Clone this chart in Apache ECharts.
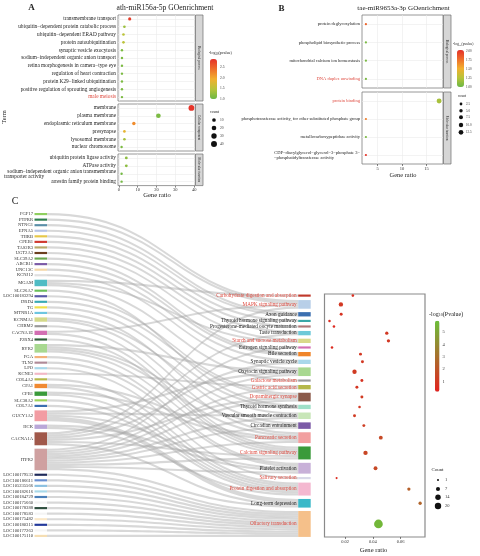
<!DOCTYPE html>
<html>
<head>
<meta charset="utf-8">
<title>GO / KEGG enrichment</title>
<script src="https://cdn.jsdelivr.net/npm/echarts@6/dist/echarts.min.js"></script>
<style>
  html, body { margin: 0; padding: 0; background: #fff; }
  #main { width: 480px; height: 556px; }
</style>
</head>
<body>
<div id="main"></div>
<script>
// ---------- panel A : ath-miR156a-5p GO enrichment ----------
var aBpTerms = ['transmembrane transport', 'ubiquitin−dependent protein catabolic process',
  'ubiquitin−dependent ERAD pathway', 'protein autoubiquitination', 'synaptic vesicle exocytosis',
  'sodium−independent organic anion transport', 'retina morphogenesis in camera−type eye',
  'regulation of heart contraction', 'protein K29−linked ubiquitination',
  'positive regulation of sprouting angiogenesis', 'male meiosis'];
var aBpRatio = [5.8, 3.0, 2.5, 2.5, 1.7, 1.7, 1.7, 1.7, 1.7, 1.7, 1.7];
var aBpCount = [6, 3, 3, 3, 2, 2, 2, 2, 2, 2, 2];
var aBpLogP  = [2.8, 1.3, 1.5, 1.5, 1.1, 1.1, 1.1, 1.1, 1.1, 1.1, 1.1];

var aCcTerms = ['membrane', 'plasma membrane', 'endoplasmic reticulum membrane', 'presynapse',
  'lysosomal membrane', 'nuclear chromosome'];
var aCcRatio = [38.5, 21, 8, 3, 3, 1.5];
var aCcCount = [38, 21, 8, 3, 3, 2];
var aCcLogP  = [2.85, 1.1, 2.2, 1.85, 1.35, 1.1];

var aMfTerms = ['ubiquitin protein ligase activity', 'ATPase activity',
  'sodium−independent organic anion transmembrane\ntransporter activity', 'arrestin family protein binding'];
var aMfRatio = [4, 4, 1.5, 1.5];
var aMfCount = [4, 4, 2, 2];
var aMfLogP  = [1.2, 1.2, 1.05, 1.05];

var aLegendCounts = [10, 20, 30, 40];
var aColorTicks = [2.5, 2.0, 1.5, 1.0];

// ---------- panel B : tae-miR9653a-3p GO enrichment ----------
var bBpTerms = ['protein deglycosylation', 'phospholipid biosynthetic process',
  'mitochondrial calcium ion homeostasis', 'DNA duplex unwinding'];
var bBpRatio = [2.6, 2.6, 2.6, 2.6];
var bBpCount = [1, 1, 1, 1];
var bBpLogP  = [1.8, 1.05, 1.05, 1.05];

var bMfTerms = ['protein binding', 'phosphotransferase activity, for other substituted phosphate group',
  'metallocarboxypeptidase activity', 'CDP−diacylglycerol−glycerol−3−phosphate 3−\n−phosphatidyltransferase activity'];
var bMfRatio = [17.6, 2.6, 2.6, 2.6];
var bMfCount = [14, 1, 1, 1];
var bMfLogP  = [1.2, 1.7, 1.05, 2.0];

var bLegendCounts = [2.5, 5.0, 7.5, 10.0, 12.5];
var bColorTicks = [2.00, 1.75, 1.50, 1.25, 1.00];

var redTerms = ['male meiosis', 'DNA duplex unwinding', 'protein binding'];

// ---------- panel C : genes -> KEGG pathways ----------
var genes = ['FGF17', 'PTPRR', 'NTNG1', 'EFNA5', 'THRB', 'CPEB1', 'TAS2R3', 'UGT2A3', 'SLC39A2', 'ABCB11',
  'UNC13C', 'KCNJ12', 'MGAM', 'SLC26A7', 'LOC100183294', 'DRD4', 'TG', 'MTNR1A', 'KCNMA1', 'CHRM2',
  'CACNA1E', 'P2RX4', 'RYR2', 'FGA', 'TLN2', 'LPO', 'KCNE3', 'COL4A2', 'CPA1', 'CPB1', 'SLC38A2', 'COL7A1',
  'GUCY1A2', 'HCK', 'CACNA1A', 'ITPR2', 'LOC100179533', 'LOC100186611', 'LOC105235566', 'LOC100182616',
  'LOC100184729', 'LOC100175660', 'LOC100178388', 'LOC100178583', 'LOC100175482', 'LOC100180315',
  'LOC100177263', 'LOC100175110'];
var geneColors = ['#8fcf5f', '#2e7d4f', '#5b8fa8', '#b7c4e6', '#e6c84a', '#d03a2f', '#b8a96a', '#6b3f1f', '#6aa84f', '#7b5aa6',
  '#f4d7a8', '#e0e0e0', '#4fbcc4', '#6abf5a', '#5a5aa8', '#3aaab5', '#f0e04a', '#6ec6e0', '#d4d98a', '#9a9a9a',
  '#d36fb3', '#2f5e3a', '#a8d890', '#f3b27a', '#b08b98', '#a9d8ea', '#f2b8c6', '#b5b84a', '#f08a32', '#3a9a3a',
  '#9bd45a', '#3b6fb0', '#f29ca3', '#b9a7d8', '#a0584a', '#cfa0a0', '#1f2a5a', '#6a8fd0', '#8cc0e0', '#a8d8e8',
  '#4a7fb8', '#f2f2f2', '#2f4f3f', '#f4f4f4', '#fbe8c8', '#22389a', '#f6f6f6', '#f5deb3'];

var pathways = ['Carbohydrate digestion and absorption', 'MAPK signaling pathway', 'Axon guidance',
  'Thyroid hormone signaling pathway', 'Progesterone-mediated oocyte maturation', 'Taste transduction',
  'Starch and sucrose metabolism', 'Estrogen signaling pathway', 'Bile secretion', 'Synaptic vesicle cycle',
  'Oxytocin signaling pathway', 'Galactose metabolism', 'Gastric acid secretion', 'Dopaminergic synapse',
  'Thyroid hormone synthesis', 'Vascular smooth muscle contraction', 'Circadian entrainment',
  'Pancreatic secretion', 'Calcium signaling pathway', 'Platelet activation', 'Salivary secretion',
  'Protein digestion and absorption', 'Long-term depression', 'Olfactory transduction'];
var pathwayColors = ['#c0392b', '#b8cfe8', '#3b6fb0', '#3aa8a8', '#b07a7a', '#6ec9d8', '#d9d98a', '#d36fb3',
  '#f0852a', '#a9d8ea', '#a8d890', '#9a9a9a', '#b5b84a', '#8b5a4a', '#9fe0c8', '#c8e6b8', '#7b5aa6',
  '#f2a0a0', '#3a9a3a', '#c8b0d8', '#d8d8e8', '#f4b8d0', '#3ab8c8', '#f5c08a'];
var pathwayRed = ['Carbohydrate digestion and absorption', 'MAPK signaling pathway', 'Starch and sucrose metabolism',
  'Galactose metabolism', 'Gastric acid secretion', 'Dopaminergic synapse', 'Pancreatic secretion',
  'Calcium signaling pathway', 'Salivary secretion', 'Protein digestion and absorption', 'Olfactory transduction'];
var pathwayRatio = [0.0256, 0.017, 0.0172, 0.0088, 0.012, 0.050, 0.0512, 0.0106, 0.0311, 0.0325, 0.0268, 0.0321,
  0.0285, 0.0321, 0.0304, 0.0268, 0.0335, 0.0457, 0.0347, 0.0419, 0.0139, 0.0659, 0.074, 0.044];
var pathwayCount = [2, 8, 3, 2, 2, 4, 4, 2, 3, 3, 8, 3, 3, 3, 2, 3, 3, 6, 8, 6, 1, 4, 4, 40];
var pathwayLogP = [0.7, 1.0, 0.8, 0.6, 0.5, 1.0, 1.0, 0.6, 1.0, 1.0, 1.1, 0.8, 0.9, 1.1, 1.0, 1.1, 1.2, 1.6,
  1.5, 1.6, 0.6, 2.4, 2.6, 5.6];

var links = [
  ['FGF17', 'MAPK signaling pathway', 1], ['PTPRR', 'MAPK signaling pathway', 1],
  ['NTNG1', 'Axon guidance', 1], ['EFNA5', 'Axon guidance', 1],
  ['THRB', 'Thyroid hormone signaling pathway', 1], ['CPEB1', 'Progesterone-mediated oocyte maturation', 1],
  ['TAS2R3', 'Taste transduction', 1], ['UGT2A3', 'Starch and sucrose metabolism', 1],
  ['SLC39A2', 'Bile secretion', 1], ['ABCB11', 'Bile secretion', 1],
  ['UNC13C', 'Synaptic vesicle cycle', 1], ['KCNJ12', 'Oxytocin signaling pathway', 1],
  ['MGAM', 'Carbohydrate digestion and absorption', 1], ['MGAM', 'Starch and sucrose metabolism', 1],
  ['MGAM', 'Galactose metabolism', 1], ['SLC26A7', 'Thyroid hormone synthesis', 1],
  ['LOC100183294', 'Dopaminergic synapse', 1], ['DRD4', 'Dopaminergic synapse', 1],
  ['TG', 'Thyroid hormone synthesis', 1], ['MTNR1A', 'Circadian entrainment', 1],
  ['KCNMA1', 'Vascular smooth muscle contraction', 1], ['KCNMA1', 'Pancreatic secretion', 1],
  ['CHRM2', 'Calcium signaling pathway', 1],
  ['CACNA1E', 'MAPK signaling pathway', 1], ['CACNA1E', 'Calcium signaling pathway', 1],
  ['P2RX4', 'Calcium signaling pathway', 1],
  ['RYR2', 'Oxytocin signaling pathway', 1], ['RYR2', 'Circadian entrainment', 1],
  ['RYR2', 'Pancreatic secretion', 1], ['RYR2', 'Calcium signaling pathway', 1],
  ['FGA', 'Platelet activation', 1], ['TLN2', 'Platelet activation', 1],
  ['LPO', 'Salivary secretion', 1], ['KCNE3', 'Gastric acid secretion', 1],
  ['COL4A2', 'Protein digestion and absorption', 1],
  ['CPA1', 'Pancreatic secretion', 1], ['CPA1', 'Protein digestion and absorption', 1],
  ['CPB1', 'Pancreatic secretion', 1], ['CPB1', 'Protein digestion and absorption', 1],
  ['SLC38A2', 'Protein digestion and absorption', 1], ['COL7A1', 'Protein digestion and absorption', 1],
  ['GUCY1A2', 'Oxytocin signaling pathway', 1], ['GUCY1A2', 'Vascular smooth muscle contraction', 1],
  ['GUCY1A2', 'Platelet activation', 1], ['GUCY1A2', 'Long-term depression', 2],
  ['HCK', 'Platelet activation', 1], ['HCK', 'Protein digestion and absorption', 1],
  ['CACNA1A', 'MAPK signaling pathway', 1], ['CACNA1A', 'Taste transduction', 1],
  ['CACNA1A', 'Synaptic vesicle cycle', 1], ['CACNA1A', 'Dopaminergic synapse', 1],
  ['CACNA1A', 'Calcium signaling pathway', 1], ['CACNA1A', 'Long-term depression', 1],
  ['ITPR2', 'Estrogen signaling pathway', 1], ['ITPR2', 'Oxytocin signaling pathway', 1],
  ['ITPR2', 'Gastric acid secretion', 1], ['ITPR2', 'Dopaminergic synapse', 1],
  ['ITPR2', 'Vascular smooth muscle contraction', 1], ['ITPR2', 'Circadian entrainment', 1],
  ['ITPR2', 'Pancreatic secretion', 1], ['ITPR2', 'Calcium signaling pathway', 1],
  ['ITPR2', 'Platelet activation', 1], ['ITPR2', 'Long-term depression', 1],
  ['LOC100179533', 'Olfactory transduction', 1], ['LOC100186611', 'Olfactory transduction', 1],
  ['LOC105235566', 'Olfactory transduction', 1], ['LOC100182616', 'Olfactory transduction', 1],
  ['LOC100184729', 'Olfactory transduction', 1], ['LOC100175660', 'Olfactory transduction', 1],
  ['LOC100178388', 'Olfactory transduction', 1], ['LOC100178583', 'Olfactory transduction', 1],
  ['LOC100175482', 'Olfactory transduction', 1], ['LOC100180315', 'Olfactory transduction', 1],
  ['LOC100177263', 'Olfactory transduction', 1], ['LOC100175110', 'Olfactory transduction', 1]
];
var cLegendCounts = [1, 7, 14, 20];
var cColorTicks = [5, 4, 3, 2, 1];

// ---------- style ----------
var SERIF = 'Liberation Serif';
var RED = '#df4b40';
var GO_COLORS = ['#6cb845', '#b8c43a', '#f2b02f', '#ee6e2b', '#e5302a'];
function sizeA(c) { return 1.4 + 0.72 * Math.sqrt(c); }
function sizeB(c) { return 1.2 + 1.0 * Math.sqrt(c); }
function sizeC(c) { return 0.8 + 1.25 * Math.sqrt(c); }

var chart = echarts.init(document.getElementById('main'), null, { renderer: 'canvas' });

var grids = [], xAxes = [], yAxes = [], series = [], graphics = [];

function txt(x, y, s, size, o) {
  o = o || {};
  return {
    type: 'text', x: x, y: y, rotation: o.rot || 0, silent: true, z: 100,
    style: {
      text: s, fontSize: size, fontFamily: SERIF, fontWeight: o.bold ? 'bold' : 'normal',
      fill: o.color || '#222', align: o.align || 'left', verticalAlign: o.va || 'middle', rich: o.rich
    }
  };
}

function strip(x, y, w, h, label) {
  graphics.push({
    type: 'rect', silent: true, z: 90, shape: { x: x, y: y, width: w, height: h },
    style: { fill: '#d6d6d6', stroke: '#6f6f6f', lineWidth: 0.7 }
  });
  graphics.push(txt(x + w / 2, y + h / 2, label, 3.2, { rot: -Math.PI / 2, align: 'center', color: '#333' }));
}

// one facet of a GO dot plot
function facet(box, xr, terms, ratio, count, logp, showX, sizeFn, labelSize, richW, stripLabel) {
  var gi = grids.length;
  grids.push({ left: box.left, top: box.top, width: box.width, height: box.height, show: true,
    borderColor: '#7f7f7f', borderWidth: 0.8, containLabel: false, outerBoundsMode: 'none' });
  xAxes.push({
    type: 'value', gridIndex: gi, min: xr.min, max: xr.max,
    axisLine: { show: false },
    axisTick: { show: showX, customValues: xr.ticks, length: 2, lineStyle: { color: '#333', width: 0.6 } },
    axisLabel: { show: showX, customValues: xr.ticks, fontSize: 4.5, margin: 2, color: '#333', fontFamily: SERIF },
    splitLine: { show: true, lineStyle: { color: '#ebebeb', width: 0.6 } }
  });
  yAxes.push({
    type: 'category', gridIndex: gi, inverse: true,
    data: terms.map(function (t) {
      return redTerms.indexOf(t) >= 0 ? { value: t, textStyle: { color: RED } } : t;
    }),
    axisLine: { show: false },
    axisTick: { alignWithLabel: true, length: 2, lineStyle: { color: '#333', width: 0.6 } },
    axisLabel: {
      interval: 0, fontSize: labelSize, margin: 2, color: '#222', fontFamily: SERIF,
      formatter: function (v) {
        var p = v.split('\n');
        return p.length > 1 ? '{l1|' + p[0] + '}\n{l2|' + p[1] + '}' : v;
      },
      rich: {
        l1: { width: richW, align: 'right', fontSize: labelSize, fontFamily: SERIF, color: '#222' },
        l2: { width: richW, align: 'left', fontSize: labelSize, fontFamily: SERIF, color: '#222' }
      }
    },
    splitLine: { show: true, alignWithLabel: true, lineStyle: { color: '#ebebeb', width: 0.6 } }
  });
  series.push({
    type: 'scatter', xAxisIndex: gi, yAxisIndex: gi,
    data: terms.map(function (t, i) { return [ratio[i], t, count[i], logp[i]]; }),
    symbolSize: function (v) { return sizeFn(v[2]); },
    itemStyle: { opacity: 1 }
  });
  strip(box.left + box.width + 0.5, box.top, 7.5, box.height, stripLabel);
}

// ---------- panel A ----------
var xrA = { min: -0.4, max: 40.4, ticks: [0, 10, 20, 30, 40] };
facet({ left: 118, top: 15, width: 77, height: 86 }, xrA, aBpTerms, aBpRatio, aBpCount, aBpLogP, false, sizeA, 5.3, 112, 'Biological process');
facet({ left: 118, top: 104, width: 77, height: 47 }, xrA, aCcTerms, aCcRatio, aCcCount, aCcLogP, false, sizeA, 5.3, 112, 'Cellular component');
facet({ left: 118, top: 154, width: 77, height: 31.6 }, xrA, aMfTerms, aMfRatio, aMfCount, aMfLogP, true, sizeA, 5.3, 112, 'Molecular function');

// ---------- panel B ----------
var xrB = { min: 1.8, max: 18.4, ticks: [5, 10, 15] };
facet({ left: 362, top: 15, width: 81, height: 73 }, xrB, bBpTerms, bBpRatio, bBpCount, bBpLogP, false, sizeB, 4.5, 86, 'Biological process');
facet({ left: 362, top: 92, width: 81, height: 72 }, xrB, bMfTerms, bMfRatio, bMfCount, bMfLogP, true, sizeB, 4.5, 86, 'Molecular function');

// ---------- panel C : sankey ----------
var sk = { left: 34.5, top: 213, width: 276.2, height: 324, gap: 3.4 };
var total = links.reduce(function (s, l) { return s + l[2]; }, 0);
var ky = (sk.height - (genes.length - 1) * sk.gap) / total;
// invisible spacer on top of the pathway column so that it sits bottom-aligned
var spacer = ((sk.height - pathways.length * sk.gap) / ky - total) * 0.999;

var nodes = genes.map(function (g, i) {
  return { name: g, depth: 0, itemStyle: { color: geneColors[i] } };
});
nodes.push({ name: ' ', depth: 1, value: spacer, itemStyle: { opacity: 0 }, label: { show: false } });
pathways.forEach(function (p, i) {
  nodes.push({ name: p, depth: 1, itemStyle: { color: pathwayColors[i] },
    label: { color: pathwayRed.indexOf(p) >= 0 ? RED : '#222', fontSize: 5.2 } });
});
var sankeyIndex = series.length;
series.push({
  type: 'sankey', left: sk.left, top: sk.top, width: sk.width, height: sk.height,
  nodeWidth: 12.5, nodeGap: sk.gap, layoutIterations: 0, draggable: false, nodeAlign: 'left',
  emphasis: { disabled: true },
  data: nodes,
  links: links.map(function (l) { return { source: l[0], target: l[1], value: l[2] }; }),
  label: { position: 'left', distance: 1.5, fontSize: 4.6, fontFamily: SERIF, color: '#333' },
  itemStyle: { borderWidth: 0 },
  lineStyle: { color: '#a8a8a8', opacity: 0.45, curveness: 0.5 }
});

// ---------- panel C : dot plot ----------
var dg = { left: 324.5, top: 294, width: 100.5, height: 243 };
var dgi = grids.length;
grids.push({ left: dg.left, top: dg.top, width: dg.width, height: dg.height, show: true,
  borderColor: '#8a8a8a', borderWidth: 1.2, containLabel: false, outerBoundsMode: 'none' });
xAxes.push({
  type: 'value', gridIndex: dgi, min: 0.0052, max: 0.0775,
  axisLine: { show: false },
  axisTick: { customValues: [0.02, 0.04, 0.06], length: 2, lineStyle: { color: '#333', width: 0.6 } },
  axisLabel: { customValues: [0.02, 0.04, 0.06], fontSize: 4.5, margin: 2.5, color: '#333', fontFamily: SERIF,
    formatter: function (v) { return v.toFixed(2); } },
  splitLine: { show: false }
});
yAxes.push({ type: 'value', gridIndex: dgi, inverse: true, show: false,
  min: dg.top - sk.top, max: dg.top + dg.height - sk.top, splitLine: { show: false } });
var dotIndex = series.length;
series.push({
  id: 'dots', type: 'scatter', xAxisIndex: dgi, yAxisIndex: dgi, data: [], clip: false,
  symbolSize: function (v) { return sizeC(v[2]); }, itemStyle: { opacity: 1 }
});

// ---------- colour bars ----------
var vmA = { min: 1.0, max: 2.89, left: 210, top: 59, w: 7, h: 40 };
var vmB = { min: 1.0, max: 2.02, left: 457, top: 50, w: 7, h: 37 };
var vmC = { min: 0.2, max: 5.9, left: 435, top: 320.7, w: 4.5, h: 71 };
function vm(v, idx, colors) {
  return { type: 'continuous', seriesIndex: idx, dimension: 3, min: v.min, max: v.max,
    left: v.left, top: v.top, itemWidth: v.w, itemHeight: v.h, padding: 0, calculable: false,
    text: null, inRange: { color: colors }, hoverLink: false };
}
function vmLabels(v, ticks, digits, x, size) {
  ticks.forEach(function (t) {
    graphics.push(txt(x, v.top + (v.max - t) / (v.max - v.min) * v.h, t.toFixed(digits), size, { color: '#333' }));
  });
}
vmLabels(vmA, aColorTicks, 1, 220, 3.6);
vmLabels(vmB, bColorTicks, 2, 466, 3.3);
vmLabels(vmC, cColorTicks, 0, 442.5, 4.5);

var subRich = function (s) { return { s: { fontSize: s, fontFamily: SERIF, fill: '#222', verticalAlign: 'bottom', padding: [s * 0.6, 0, 0, 0] } }; };
graphics.push(txt(209, 53, '-log{s|10}(pvalue)', 4, { rich: subRich(3) }));
graphics.push(txt(453, 44.5, '-log{s|10}(pvalue)', 3.6, { rich: subRich(2.7) }));
graphics.push(txt(429, 314, '-log{s|10}(Pvalue)', 6, { rich: subRich(4.2) }));

// ---------- size legends ----------
function sizeLegend(title, tx, ty, dx, ys, counts, fn, lx, size, digits) {
  graphics.push(txt(tx, ty, title, size + 0.4));
  counts.forEach(function (c, i) {
    graphics.push({ type: 'circle', silent: true, z: 100, shape: { cx: dx, cy: ys[i], r: fn(c) / 2 }, style: { fill: '#111' } });
    graphics.push(txt(lx, ys[i], c.toFixed(digits), size, { color: '#333' }));
  });
}
sizeLegend('count', 210, 112, 214, [120, 128, 136, 144], aLegendCounts, sizeA, 220, 3.6, 0);
sizeLegend('count', 458, 96, 461, [104, 110.7, 117.3, 125, 132.3], bLegendCounts, sizeB, 466, 3.2, 1);
sizeLegend('Count', 431.5, 470, 438, [480, 489, 497.3, 506], cLegendCounts, sizeC, 445, 4.5, 0);

// ---------- titles and axis names ----------
graphics.push(txt(31.5, 8, 'A', 9, { bold: true, align: 'center' }));
graphics.push(txt(165, 7.5, 'ath-miR156a-5p GOenrichment', 7.6, { align: 'center' }));
graphics.push(txt(4.5, 117, 'Term', 6.4, { rot: Math.PI / 2, align: 'center' }));
graphics.push(txt(157, 195.5, 'Gene ratio', 6.6, { align: 'center' }));

graphics.push(txt(281.5, 8.5, 'B', 9, { bold: true, align: 'center' }));
graphics.push(txt(403.5, 8, 'tae-miR9653a-3p GOenrichment', 7, { align: 'center' }));
graphics.push(txt(403, 175, 'Gene ratio', 6.4, { align: 'center' }));

graphics.push(txt(15, 201, 'C', 10, { align: 'center' }));
graphics.push(txt(373.5, 550, 'Gene ratio', 6.6, { align: 'center' }));

var option = {
  animation: false,
  backgroundColor: '#fff',
  textStyle: { fontFamily: SERIF },
  grid: grids,
  xAxis: xAxes,
  yAxis: yAxes,
  visualMap: [vm(vmA, [0, 1, 2], GO_COLORS), vm(vmB, [3, 4], GO_COLORS), vm(vmC, dotIndex, ['#e3221f', '#6cbf3a'])],
  series: series,
  graphic: graphics
};
chart.setOption(option);

// place each pathway's dot at the centre of its sankey node
var nodeData = chart.getModel().getSeriesByIndex(sankeyIndex).getData();
var dots = pathways.map(function (p, i) {
  var lay = nodeData.getItemLayout(genes.length + 1 + i);
  return [pathwayRatio[i], lay.y + lay.dy / 2, pathwayCount[i], pathwayLogP[i]];
});
chart.setOption({ series: [{ id: 'dots', data: dots }] });
</script>
</body>
</html>
